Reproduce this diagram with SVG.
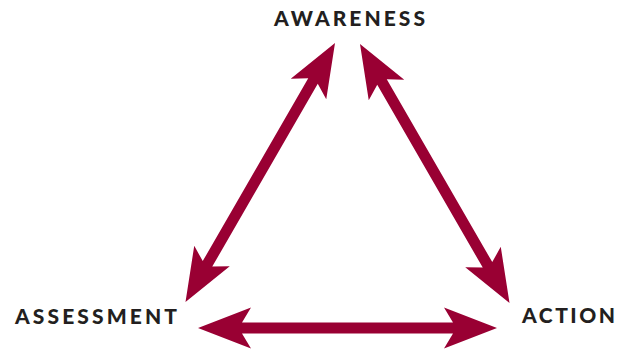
<svg xmlns="http://www.w3.org/2000/svg" xmlns:xlink="http://www.w3.org/1999/xlink" width="620" height="352" viewBox="0 0 620 352">
<style>
.lbl{font-family:"Lato","Open Sans","Liberation Sans",sans-serif;font-weight:900;font-size:21px;fill:#231f20;}
.arr{fill:#990033;}
</style>
<defs>
<path id="dbl" d="M0,0 L53,-20.5 L44,-5.5 L255,-5.5 L246,-20.5 L299,0 L246,20.5 L255,5.5 L44,5.5 L53,20.5 Z"/>
</defs>
<g id="connectors" class="arr">
<use xlink:href="#dbl" transform="translate(335,43) rotate(120)"/>
<use xlink:href="#dbl" transform="translate(360,44) rotate(60)"/>
<use xlink:href="#dbl" transform="translate(198,328)"/>
</g>
<g id="awareness"><text class="lbl" x="274" y="26" textLength="151" lengthAdjust="spacing">AWARENESS</text></g>
<g id="assessment"><text class="lbl" x="15" y="324" textLength="162" lengthAdjust="spacing">ASSESSMENT</text></g>
<g id="action"><text class="lbl" x="522" y="323" textLength="93" lengthAdjust="spacing">ACTION</text></g>
</svg>
